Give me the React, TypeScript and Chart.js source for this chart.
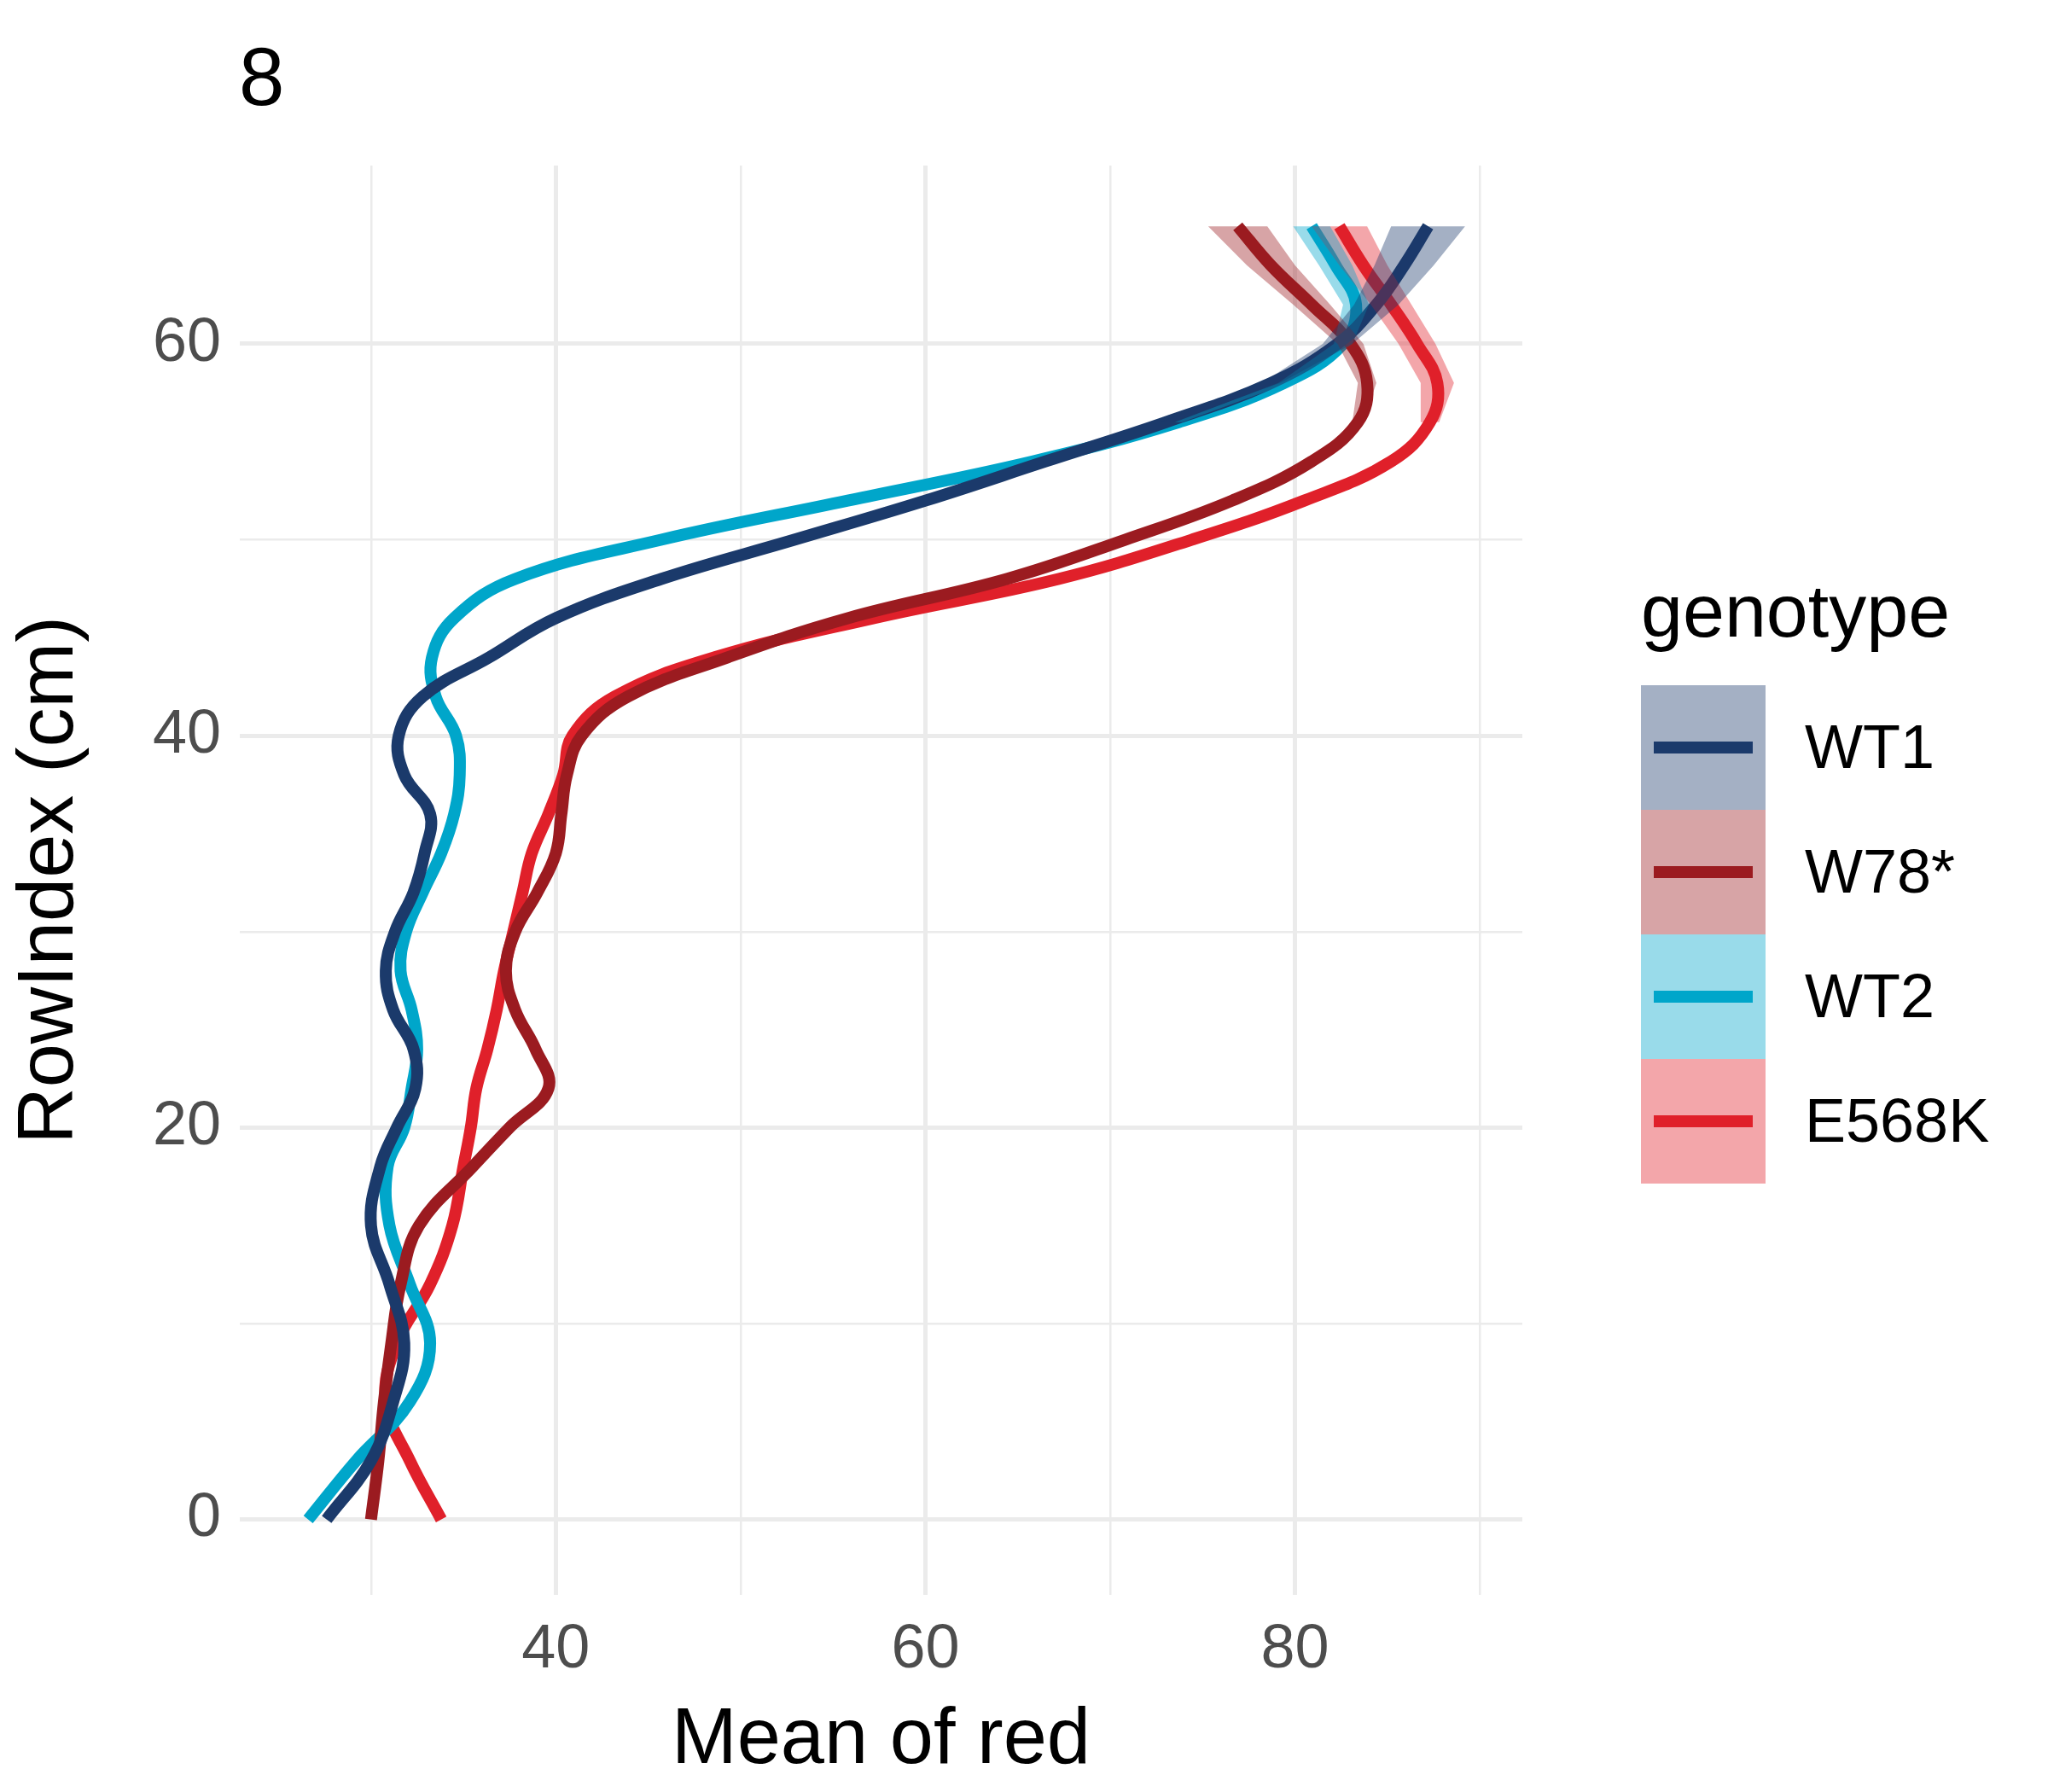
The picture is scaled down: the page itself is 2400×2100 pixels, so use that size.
import React, { useEffect, useRef } from "react";
import Chart from "chart.js/auto";

const rowIndex = [0, 3, 6, 9, 12, 15, 18, 20, 22, 24, 26, 28, 30, 32, 34, 36, 38, 40, 42, 44, 46, 48, 50, 52, 54, 56, 58, 60, 62, 64, 66];

const wt1 = [27.6, 30.0, 31.2, 31.8, 31.0, 30.0, 30.5, 31.4, 32.4, 32.3, 31.2, 30.8, 31.3, 32.3, 32.9, 33.2, 31.8, 31.5, 32.8, 36.4, 40.0, 45.7, 52.9, 60.0, 66.5, 73.0, 78.7, 82.3, 84.4, 85.9, 87.2];
const w78 = [30.0, 30.4, 30.7, 31.1, 31.6, 32.6, 35.5, 37.5, 39.6, 38.9, 37.8, 37.3, 37.8, 39.0, 40.0, 40.3, 40.6, 41.4, 43.9, 49.3, 55.8, 64.4, 70.8, 76.6, 80.9, 83.4, 83.9, 83.0, 80.9, 78.7, 76.9];
const wt2 = [26.6, 29.2, 32.1, 33.2, 32.1, 31.0, 30.9, 31.8, 32.2, 32.5, 32.2, 31.6, 31.9, 32.8, 33.8, 34.5, 34.8, 34.6, 33.5, 33.3, 34.5, 37.8, 45.7, 55.8, 65.8, 73.7, 79.4, 82.6, 83.3, 82.2, 80.9];
const e568k = [33.8, 32.1, 30.8, 31.4, 33.2, 34.4, 35.0, 35.4, 35.7, 36.3, 36.8, 37.2, 37.7, 38.2, 38.7, 39.6, 40.4, 40.9, 43.2, 48.6, 57.2, 67.2, 74.4, 80.5, 85.2, 87.3, 87.7, 86.6, 85.2, 83.7, 82.4];

// half-width of the confidence ribbon near the top of each curve
const bandRows = [56, 58, 60, 62, 64, 66];
const wt1Band = [0.3, 0.5, 0.8, 1.2, 1.6, 2.0];
const w78Band = [0.3, 0.5, 0.7, 1.0, 1.3, 1.6];
const wt2Band = [0.2, 0.3, 0.5, 0.7, 0.9, 1.0];
const e568kBand = [0.5, 0.9, 1.0, 1.1, 1.3, 1.5];

const genotypes = ["WT1", "W78*", "WT2", "E568K"];
const lineColors = ["#1B3A6B", "#9B1B20", "#00A6CA", "#E0202A"];
const bandColors = ["rgba(27,58,107,0.4)", "rgba(155,27,32,0.4)", "rgba(0,166,202,0.4)", "rgba(224,32,42,0.4)"];

const FONT = "Arial, 'Liberation Sans', sans-serif";

const App: React.FC = () => {
  const canvas = useRef<HTMLCanvasElement>(null);

  useEffect(() => {
    const series = [wt1, w78, wt2, e568k];
    const bands = [wt1Band, w78Band, wt2Band, e568kBand];
    const datasets: any[] = [];
    const off = rowIndex.length - bandRows.length;
    series.forEach((s, i) => {
      const lower = bandRows.map((y, j) => ({ x: s[off + j] - bands[i][j], y }));
      const upper = bandRows.map((y, j) => ({ x: s[off + j] + bands[i][j], y })).reverse();
      datasets.push({
        data: [...lower, ...upper],
        showLine: true, borderWidth: 0, pointRadius: 0, tension: 0,
        fill: "shape", backgroundColor: bandColors[i],
      });
    });
    series.forEach((s, i) => {
      datasets.push({
        label: genotypes[i],
        data: rowIndex.map((y, j) => ({ x: s[j], y })),
        showLine: true, borderColor: lineColors[i], borderWidth: 14,
        pointRadius: 0, tension: 0.4, fill: false,
        borderCapStyle: "butt", borderJoinStyle: "round",
      });
    });

    const grid = (majors: number[]) => ({
      color: "#EBEBEB",
      lineWidth: (ctx: any) => (majors.includes(ctx.tick?.value) ? 5 : 2.5),
      drawTicks: false,
    });

    const chart = new Chart(canvas.current!.getContext("2d")!, {
      type: "scatter",
      data: { datasets },
      options: {
        animation: false,
        responsive: false,
        layout: { padding: { top: 194, right: 616, left: 0, bottom: 0 } },
        plugins: {
          legend: { display: false },
          tooltip: { enabled: false },
        },
        scales: {
          x: {
            min: 22.9, max: 92.3,
            afterBuildTicks: (s: any) => { s.ticks = [30, 40, 50, 60, 70, 80, 90].map(v => ({ value: v })); },
            afterFit: (s: any) => { s.height = 231; },
            border: { display: false },
            grid: grid([40, 60, 80]) as any,
            ticks: {
              color: "#4D4D4D", padding: 22, maxRotation: 0,
              font: { family: FONT, size: 72 },
              callback: (v: any) => ([40, 60, 80].includes(v) ? String(v) : ""),
            },
            title: { display: true, text: "Mean of red", color: "#000", font: { family: FONT, size: 92 }, padding: { top: 0 } },
          },
          y: {
            min: -3.85, max: 69.1,
            afterBuildTicks: (s: any) => { s.ticks = [0, 10, 20, 30, 40, 50, 60].map(v => ({ value: v })); },
            afterFit: (s: any) => { s.width = 281; },
            border: { display: false },
            grid: grid([0, 20, 40, 60]) as any,
            ticks: {
              color: "#4D4D4D", padding: 22,
              font: { family: FONT, size: 72 },
              callback: (v: any) => ([0, 20, 40, 60].includes(v) ? String(v) : ""),
            },
            title: { display: true, text: "RowIndex (cm)", color: "#000", font: { family: FONT, size: 92 }, padding: { bottom: 10 } },
          },
        },
      },
    });
    return () => chart.destroy();
  }, []);

  return (
    <div style={{ position: "absolute", left: 0, top: 0, width: 2400, height: 2100, background: "#fff", fontFamily: FONT }}>
      <canvas ref={canvas} width={2400} height={2100} style={{ position: "absolute", left: 0, top: 0 }} />
      <div style={{ position: "absolute", left: 280, top: 35, fontSize: 96, color: "#000", lineHeight: "110px" }}>8</div>
      <div style={{ position: "absolute", left: 1923, top: 665, fontSize: 88, color: "#000" }}>genotype</div>
      {genotypes.map((g, i) => (
        <div key={g} style={{ position: "absolute", left: 1923, top: 803 + i * 146, width: 600, height: 146 }}>
          <div style={{ position: "absolute", left: 0, top: 0, width: 146, height: 146, background: bandColors[i] }} />
          <div style={{ position: "absolute", left: 15, top: 66, width: 116, height: 14, background: lineColors[i] }} />
          <div style={{ position: "absolute", left: 192, top: 32, fontSize: 72, color: "#000", lineHeight: "80px" }}>{g}</div>
        </div>
      ))}
    </div>
  );
};

export default App;
